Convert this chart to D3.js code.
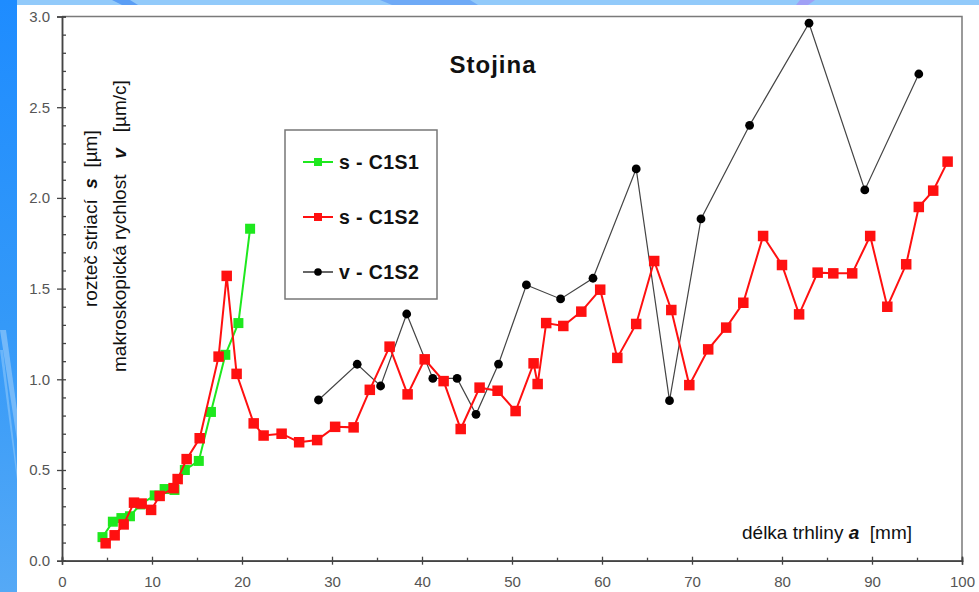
<!DOCTYPE html>
<html>
<head>
<meta charset="utf-8">
<script src="https://cdn.jsdelivr.net/npm/d3@7"></script>
<style>
  body { margin: 0; background: #fff; }
  svg { display: block; }
  text { font-family: Arial, "Liberation Sans", sans-serif; }
</style>
</head>
<body>
<script>
// data: crack length a [mm] and value
const greenA = [4.5, 5.65, 6.6, 7.55, 8.7, 10.3, 11.4, 12.5, 13.65, 15.2, 16.55, 18.15, 19.6, 20.9];
const greenV = [0.13, 0.215, 0.235, 0.245, 0.31, 0.36, 0.395, 0.39, 0.50, 0.55, 0.82, 1.135, 1.31, 1.83];

const redA = [4.85, 5.85, 6.85, 8.0, 8.85, 9.9, 10.85, 12.4, 12.85, 13.85, 15.3, 17.4, 18.3, 19.4,
  21.3, 22.4, 24.4, 26.35, 28.35, 30.35, 32.4, 34.2, 36.4, 38.4, 40.3, 42.4, 44.3, 46.4, 48.4,
  50.4, 52.4, 52.85, 53.8, 55.7, 57.7, 59.8, 61.7, 63.8, 65.8, 67.7, 69.7, 71.8, 73.8, 75.7,
  77.9, 80.0, 81.9, 83.96, 85.7, 87.8, 89.8, 91.7, 93.8, 95.2, 96.8, 98.4];
const redV = [0.096, 0.14, 0.20, 0.32, 0.315, 0.28, 0.357, 0.40, 0.45, 0.56, 0.675, 1.125, 1.57, 1.03,
  0.757, 0.69, 0.70, 0.653, 0.665, 0.738, 0.735, 0.942, 1.18, 0.917, 1.11, 0.99, 0.726, 0.954, 0.937,
  0.825, 1.088, 0.974, 1.31, 1.294, 1.373, 1.494, 1.118, 1.305, 1.652, 1.382, 0.968, 1.165, 1.285, 1.422,
  1.79, 1.63, 1.358, 1.588, 1.584, 1.584, 1.79, 1.40, 1.634, 1.95, 2.04, 2.20];

const blackA = [28.5, 32.8, 35.4, 38.3, 41.2, 43.9, 46.0, 48.5, 51.6, 55.4, 59.0, 63.8, 67.5, 71.0, 76.4, 83.0, 89.2, 95.2];
const blackV = [0.886, 1.083, 0.963, 1.36, 1.005, 1.005, 0.807, 1.084, 1.52, 1.443, 1.557, 2.16, 0.882, 1.884, 2.40, 2.963, 2.044, 2.683];

const xTicks = [0, 10, 20, 30, 40, 50, 60, 70, 80, 90, 100];
const yTicks = [0, 0.5, 1.0, 1.5, 2.0, 2.5, 3.0];
const seriesNames = ["s - C1S1", "s - C1S2", "v - C1S2"];

const W = 979, H = 592;
const svg = d3.select("body").append("svg").attr("width", W).attr("height", H);

// blue slide background
const defs = svg.append("defs");
const grad = defs.append("linearGradient").attr("id", "bg").attr("x1", 0).attr("y1", 0).attr("x2", 0).attr("y2", 1);
grad.append("stop").attr("offset", "0%").attr("stop-color", "#1e8cff");
grad.append("stop").attr("offset", "55%").attr("stop-color", "#3499f8");
grad.append("stop").attr("offset", "100%").attr("stop-color", "#55a9f6");
svg.append("rect").attr("width", W).attr("height", H).attr("fill", "url(#bg)");
svg.append("rect").attr("x", 17).attr("width", W - 17).attr("height", 5).attr("fill", "#92cafa");
svg.append("polygon").attr("points", "112,0 130,0 138,5 122,5").attr("fill", "#5a9ef5");
svg.append("polygon").attr("points", "380,0 470,0 478,5 392,5").attr("fill", "#6faaf6");
svg.append("polygon").attr("points", "800,0 815,0 808,5 796,5").attr("fill", "#a0a0f5");
svg.append("polygon").attr("points", "0,330 6,330 17,410 17,440").attr("fill", "#8ec6fa").attr("opacity", 0.7);
svg.append("polygon").attr("points", "0,350 3,350 17,470 17,480").attr("fill", "#9ccffb").attr("opacity", 0.5);
svg.append("rect").attr("x", 17).attr("y", 5).attr("width", W - 17).attr("height", H - 5).attr("fill", "#fff");

// scales
const x = d3.scaleLinear().domain([0, 100]).range([62, 962]);
const y = d3.scaleLinear().domain([0, 3]).range([560.7, 16.5]);

// frame (top and right)
svg.append("path")
  .attr("d", `M${x(0)},${y(3)}H${x(100)}V${y(0)}`)
  .attr("fill", "none").attr("stroke", "#7a7a7a").attr("stroke-width", 1.5);

const styleAxis = g => {
  g.select(".domain").attr("stroke", "#444").attr("stroke-width", 1.5);
  g.selectAll(".tick line").attr("stroke", "#444").attr("stroke-width", 1.3);
  g.selectAll("text").attr("fill", "#555").attr("font-size", 15)
    .attr("font-family", "Arial, 'Liberation Sans', sans-serif");
};

// x axis
svg.append("g").attr("transform", `translate(0,${y(0)})`)
  .call(d3.axisBottom(x).tickValues(d3.range(5, 100, 10)).tickSize(-3).tickFormat(""))
  .call(styleAxis);
svg.append("g").attr("transform", `translate(0,${y(0)})`)
  .call(d3.axisBottom(x).tickValues(xTicks).tickSize(-4).tickFormat(""))
  .call(styleAxis);
svg.append("g").attr("transform", `translate(0,${y(0)})`)
  .call(d3.axisBottom(x).tickValues(xTicks).tickSize(4).tickPadding(12).tickFormat(d3.format("d")))
  .call(styleAxis);

// y axis
svg.append("g").attr("transform", `translate(${x(0)},0)`)
  .call(d3.axisLeft(y).tickValues(d3.range(0, 31).map(d => d / 10)).tickSize(-4).tickFormat(""))
  .call(styleAxis);
svg.append("g").attr("transform", `translate(${x(0)},0)`)
  .call(d3.axisLeft(y).tickValues(yTicks).tickSize(5).tickPadding(7).tickFormat(d3.format(".1f")))
  .call(styleAxis);

// series
const series = [
  { a: greenA, v: greenV, color: "#1ee81e", width: 2, shape: "square", size: 10 },
  { a: redA, v: redV, color: "#ff1010", width: 2, shape: "square", size: 10.5 },
  { a: blackA, v: blackV, color: "#444", width: 1.2, shape: "circle", size: 4.4 }
];

const line = d3.line().x(d => x(d[0])).y(d => y(d[1]));

const drawMarker = (g, s, cx, cy) => {
  if (s.shape === "square") {
    g.append("rect").attr("x", cx - s.size / 2).attr("y", cy - s.size / 2)
      .attr("width", s.size).attr("height", s.size).attr("fill", s.color);
  } else {
    g.append("circle").attr("cx", cx).attr("cy", cy).attr("r", s.size).attr("fill", "#000");
  }
};

// black first, then green, red on top (red covers green at small a)
[series[2], series[0], series[1]].forEach(s => {
  const pts = d3.zip(s.a, s.v);
  const g = svg.append("g");
  g.append("path").datum(pts).attr("d", line)
    .attr("fill", "none").attr("stroke", s.color).attr("stroke-width", s.width);
  pts.forEach(p => drawMarker(g, s, x(p[0]), y(p[1])));
});

// title
svg.append("text").attr("x", 493).attr("y", 73).attr("text-anchor", "middle")
  .attr("font-size", 24).attr("font-weight", "bold").attr("letter-spacing", 1)
  .attr("fill", "#111").text("Stojina");

// legend
const leg = svg.append("g");
leg.append("rect").attr("x", 285).attr("y", 130).attr("width", 152).attr("height", 169)
  .attr("fill", "#fff").attr("stroke", "#777").attr("stroke-width", 1.5);
const legRows = [162, 217, 272];
series.forEach((s, i) => {
  const cy = legRows[i];
  leg.append("line").attr("x1", 303).attr("x2", 333).attr("y1", cy).attr("y2", cy)
    .attr("stroke", s.color === "#444" ? "#000" : s.color).attr("stroke-width", s.width);
  drawMarker(leg, Object.assign({}, s, { size: s.shape === "square" ? 8 : 3.8 }), 318, cy);
  leg.append("text").attr("x", 339).attr("y", cy + 7).attr("font-size", 19.5)
    .attr("font-weight", "bold").attr("letter-spacing", 0.4).attr("fill", "#111").text(seriesNames[i]);
});

// x axis title
const xt = svg.append("text").attr("x", 742).attr("y", 539).attr("font-size", 19).attr("fill", "#111");
xt.append("tspan").text("délka trhliny ");
xt.append("tspan").attr("font-weight", "bold").attr("font-style", "italic").text("a");
xt.append("tspan").attr("xml:space", "preserve").text("  [mm]");

// y axis titles (two lines)
const yt1 = svg.append("text").attr("transform", "translate(97,307) rotate(-90)")
  .attr("font-size", 19).attr("fill", "#111").attr("xml:space", "preserve");
yt1.append("tspan").text("rozteč striací  ");
yt1.append("tspan").attr("font-weight", "bold").attr("font-style", "italic").text("s");
yt1.append("tspan").text("  [µm]");

const yt2 = svg.append("text").attr("transform", "translate(126,372) rotate(-90)")
  .attr("font-size", 19).attr("fill", "#111").attr("xml:space", "preserve");
yt2.append("tspan").text("makroskopická rychlost   ");
yt2.append("tspan").attr("font-weight", "bold").attr("font-style", "italic").text("v");
yt2.append("tspan").text("   [µm/c]");
</script>
</body>
</html>
